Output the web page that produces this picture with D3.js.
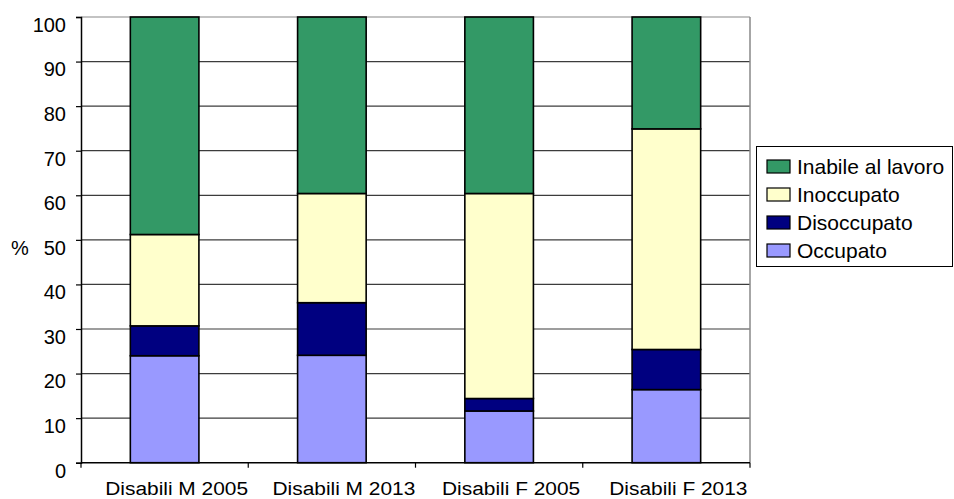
<!DOCTYPE html>
<html><head><meta charset="utf-8">
<script src="https://cdn.jsdelivr.net/npm/d3@7"></script>
<style>body{margin:0;background:#fff}svg{display:block}text{font-family:"Liberation Sans",Arial,sans-serif;fill:#000}</style>
</head><body><svg id="c" width="954" height="499"></svg>
<script>
const categories = ["Disabili M 2005","Disabili M 2013","Disabili F 2005","Disabili F 2013"];
const seriesNames = ["Occupato","Disoccupato","Inoccupato","Inabile al lavoro"];
const occupato = [24.0, 24.1, 11.6, 16.4];
const disoccupato = [6.7, 11.8, 2.8, 9.0];
const inoccupato = [20.5, 24.5, 46.0, 49.5];
const inabile = [48.8, 39.6, 39.6, 25.1];
const yTicks = [0,10,20,30,40,50,60,70,80,90,100];
const colors = ["#9999FF","#000080","#FFFFCC","#339966"];

const rows = categories.map((c,i)=>({cat:c, "Occupato":occupato[i], "Disoccupato":disoccupato[i], "Inoccupato":inoccupato[i], "Inabile al lavoro":inabile[i]}));
const svg = d3.select("#c");
const L=81, R=750, T=17, B=462.7;
const x = d3.scaleBand().domain(categories).range([L,R]).paddingInner(0.59).paddingOuter(0.295);
const y = d3.scaleLinear().domain([0,100]).range([B,T]);
const color = d3.scaleOrdinal().domain(seriesNames).range(colors);

// gridlines
svg.append("g").selectAll("line").data(yTicks.filter(d=>d>0)).join("line")
  .attr("x1",L).attr("x2",R).attr("y1",d=>y(d)).attr("y2",d=>y(d))
  .attr("stroke",d=>d===100?"#888":"#3c3c3c").attr("stroke-width",1.2);
// right border
svg.append("line").attr("x1",R).attr("x2",R).attr("y1",T).attr("y2",B).attr("stroke","#888").attr("stroke-width",1.5);

const stack = d3.stack().keys(seriesNames)(rows);
svg.append("g").selectAll("g").data(stack).join("g").attr("fill",d=>color(d.key))
  .selectAll("rect").data(d=>d).join("rect")
  .attr("x",d=>x(d.data.cat)).attr("width",x.bandwidth())
  .attr("y",d=>y(d[1])).attr("height",d=>y(d[0])-y(d[1]))
  .attr("stroke","#000").attr("stroke-width",1.6);

// y axis
const ya = svg.append("g").attr("transform",`translate(${L},0)`)
  .call(d3.axisLeft(y).tickValues(yTicks).tickSize(5).tickPadding(10));
ya.select(".domain").attr("stroke","#000").attr("stroke-width",1.5);
ya.selectAll(".tick line").attr("stroke","#000").attr("stroke-width",1.2);
ya.selectAll("text").attr("font-size",20).attr("dy","0.72em").attr("font-family","Liberation Sans, Arial, sans-serif");

// x axis with ticks at boundaries
const xa = svg.append("g").attr("transform",`translate(0,${B})`);
xa.append("line").attr("x1",L).attr("x2",R).attr("stroke","#000").attr("stroke-width",1.5);
const bounds = d3.range(categories.length+1).map(i=>L+i*(R-L)/categories.length);
xa.selectAll(".tk").data(bounds).join("line").attr("class","tk")
  .attr("x1",d=>d).attr("x2",d=>d).attr("y1",0).attr("y2",5).attr("stroke","#000").attr("stroke-width",1.2);
xa.selectAll(".lb").data(categories).join("g").attr("class","lb")
  .attr("transform",d=>`translate(${x(d)+x.bandwidth()/2+12},32.5)`)
  .append("text").attr("transform","scale(1.1,1)").attr("text-anchor","middle")
  .attr("font-size",19).text(d=>d);

svg.append("text").attr("x",20).attr("y",248).attr("dy","0.35em").attr("text-anchor","middle").attr("font-size",20).text("%");

// legend
const lg = svg.append("g");
lg.append("rect").attr("x",756.5).attr("y",146.5).attr("width",196).attr("height",120).attr("fill","#fff").attr("stroke","#000").attr("stroke-width",1);
const order = seriesNames.slice().reverse();
const li = lg.selectAll(".li").data(order).join("g").attr("class","li")
  .attr("transform",(d,i)=>`translate(0,${166+i*28})`);
li.append("rect").attr("x",767).attr("y",-6).attr("width",23).attr("height",13).attr("fill",d=>color(d)).attr("stroke","#000").attr("stroke-width",1.2);
li.append("text").attr("x",797).attr("y",0).attr("dy","0.36em").attr("font-size",21).text(d=>d);
</script></body></html>
